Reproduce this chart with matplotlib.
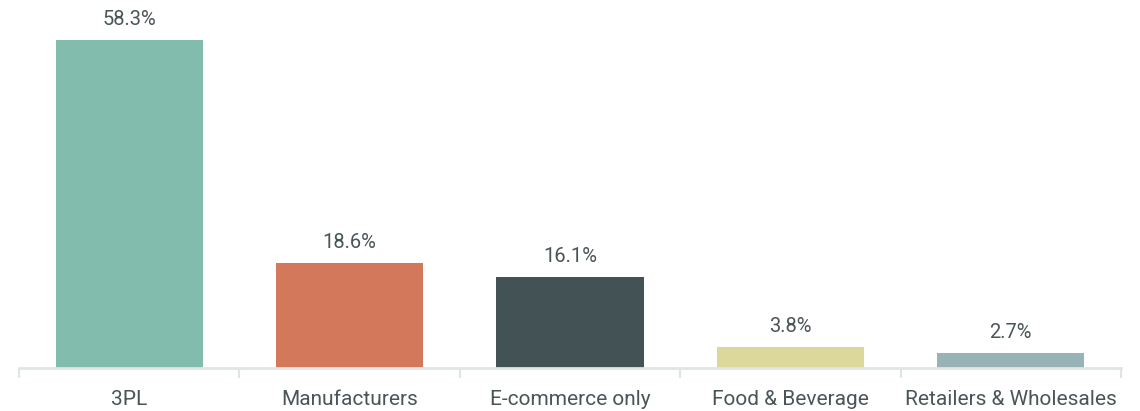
import matplotlib
matplotlib.use("Agg")
import matplotlib.pyplot as plt

categories = ["3PL", "Manufacturers", "E-commerce only", "Food & Beverage", "Retailers & Wholesales"]
shares = [58.3, 18.6, 16.1, 3.8, 2.7]
colors = ["#82bcad", "#d3785a", "#435255", "#dcd89b", "#97b3b5"]

text_color = "#4a5558"
axis_color = "#dfe5e6"

plt.rcParams["font.family"] = ["Roboto", "DejaVu Sans"]

fig = plt.figure(figsize=(11.4, 4.11), dpi=100)
ax = fig.add_axes([19 / 1140, (411 - 368) / 411, 1102 / 1140, 368 / 411])

x = range(len(categories))
bars = ax.bar(x, shares, width=0.667, color=colors)

for b, v in zip(bars, shares):
    ax.annotate(f"{v}%", (b.get_x() + b.get_width() / 2, v),
                xytext=(0, 8), textcoords="offset points",
                ha="center", va="bottom", fontsize=14.5, color=text_color)

ax.set_xlim(-0.5, len(categories) - 0.5)
ax.set_ylim(0, 65.4)

ax.set_xticks(list(x))
ax.set_xticklabels(categories, fontsize=15, color=text_color)
ax.tick_params(axis="x", which="major", length=0, pad=15.5)
ax.set_xticks([i - 0.5 for i in range(len(categories) + 1)], minor=True)
ax.tick_params(axis="x", which="minor", length=7, width=1.5, color=axis_color)

ax.set_yticks([])
for s in ["top", "right", "left"]:
    ax.spines[s].set_visible(False)
ax.spines["bottom"].set_color(axis_color)
ax.spines["bottom"].set_linewidth(2)

fig.savefig("out.png", dpi=100)
